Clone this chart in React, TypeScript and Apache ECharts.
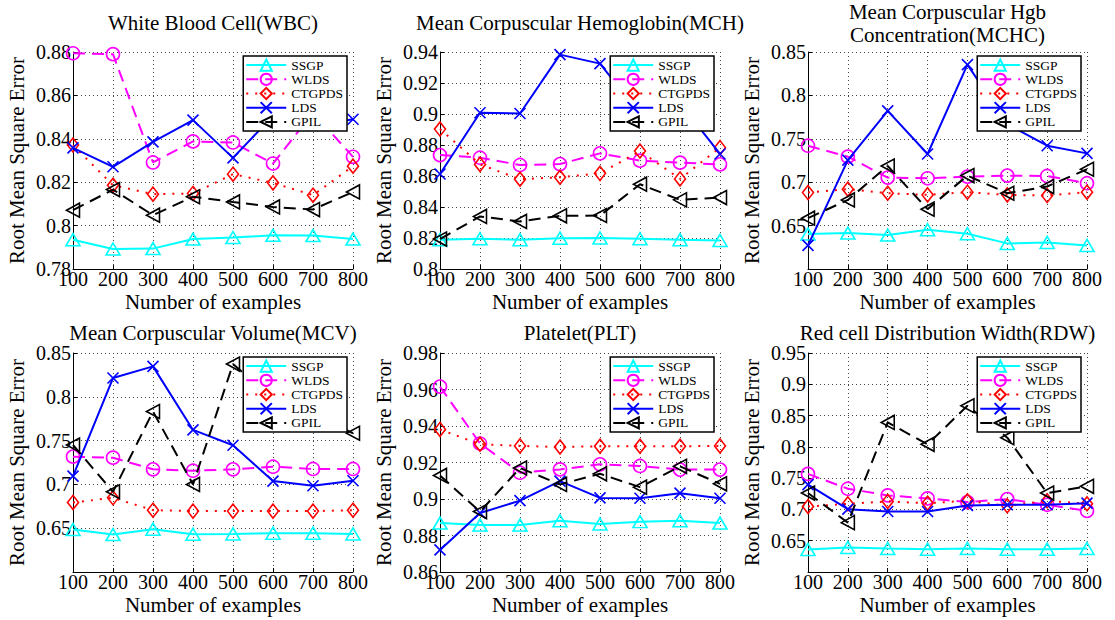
import React, { useEffect, useRef } from 'react';
import * as echarts from 'echarts';

const X_VALUES = [100, 200, 300, 400, 500, 600, 700, 800];
const METHODS = ['SSGP', 'WLDS', 'CTGPDS', 'LDS', 'GPIL'];
const TITLES = [
  'White Blood Cell(WBC)',
  'Mean Corpuscular Hemoglobin(MCH)',
  'Mean Corpuscular Hgb\nConcentration(MCHC)',
  'Mean Corpuscular Volume(MCV)',
  'Platelet(PLT)',
  'Red cell Distribution Width(RDW)',
];
const Y_MIN = [0.78, 0.8, 0.6, 0.6, 0.86, 0.6];
const Y_MAX = [0.88, 0.94, 0.85, 0.85, 0.98, 0.95];
const Y_STEP = [0.02, 0.02, 0.05, 0.05, 0.02, 0.05];
const Y_AXIS_NAME = 'Root Mean Square Error';
const X_AXIS_NAME = 'Number of examples';

const WBC_SSGP = [0.7935, 0.7892, 0.7894, 0.7938, 0.7945, 0.7955, 0.7954, 0.7938];
const WBC_WLDS = [0.8794, 0.879, 0.8291, 0.8388, 0.8383, 0.8286, 0.852, 0.8317];
const WBC_CTGPDS = [0.8371, 0.8186, 0.8145, 0.8148, 0.8237, 0.8197, 0.814, 0.8274];
const WBC_LDS = [0.8358, 0.8271, 0.8386, 0.8486, 0.8312, 0.8505, 0.846, 0.849];
const WBC_GPIL = [0.8071, 0.8166, 0.8048, 0.8133, 0.8109, 0.8086, 0.8074, 0.8155];

const MCH_SSGP = [0.8189, 0.8195, 0.8189, 0.8199, 0.82, 0.8195, 0.8189, 0.8184];
const MCH_WLDS = [0.8735, 0.8718, 0.8671, 0.8677, 0.8746, 0.8699, 0.8686, 0.8675];
const MCH_CTGPDS = [0.8903, 0.8675, 0.8579, 0.8592, 0.8617, 0.8761, 0.8581, 0.8783];
const MCH_LDS = [0.8613, 0.9008, 0.9003, 0.9383, 0.9325, 0.9, 0.907, 0.8742];
const MCH_GPIL = [0.8193, 0.8339, 0.8307, 0.8343, 0.8345, 0.8547, 0.8446, 0.8461];

const MCHC_SSGP = [0.6402, 0.6414, 0.6391, 0.6452, 0.6406, 0.6295, 0.6306, 0.6272];
const MCHC_WLDS = [0.742, 0.7294, 0.7053, 0.7045, 0.7064, 0.7076, 0.7072, 0.6988];
const MCHC_CTGPDS = [0.6881, 0.692, 0.6873, 0.6854, 0.6885, 0.6854, 0.6846, 0.6885];
const MCHC_LDS = [0.6272, 0.7255, 0.7822, 0.7325, 0.8355, 0.767, 0.742, 0.7332];
const MCHC_GPIL = [0.6586, 0.6796, 0.7187, 0.6689, 0.7076, 0.6873, 0.695, 0.7149];

const MCV_SSGP = [0.6485, 0.6427, 0.6489, 0.6431, 0.6435, 0.6443, 0.6443, 0.6435];
const MCV_WLDS = [0.7317, 0.7305, 0.7172, 0.7156, 0.7172, 0.7202, 0.7176, 0.7176];
const MCV_CTGPDS = [0.6794, 0.6847, 0.6706, 0.6695, 0.6695, 0.6695, 0.6695, 0.6706];
const MCV_LDS = [0.7095, 0.8214, 0.8347, 0.7622, 0.7447, 0.7038, 0.6985, 0.7042];
const MCV_GPIL = [0.745, 0.6916, 0.7832, 0.7, 0.8374, 0.7986, 0.78, 0.7584];

const PLT_SSGP = [0.8868, 0.8857, 0.8857, 0.8881, 0.8863, 0.8876, 0.8881, 0.8868];
const PLT_WLDS = [0.9616, 0.9304, 0.9144, 0.9162, 0.919, 0.9181, 0.9161, 0.9161];
const PLT_CTGPDS = [0.9381, 0.93, 0.9291, 0.9285, 0.9289, 0.9289, 0.9289, 0.9291];
const PLT_LDS = [0.8721, 0.8923, 0.8991, 0.9098, 0.9006, 0.9004, 0.9032, 0.9004];
const PLT_GPIL = [0.9129, 0.8931, 0.917, 0.908, 0.9138, 0.9065, 0.9179, 0.9083];

const RDW_SSGP = [0.636, 0.6392, 0.6376, 0.6365, 0.6376, 0.6365, 0.6365, 0.6376];
const RDW_WLDS = [0.7568, 0.7331, 0.7224, 0.7176, 0.7117, 0.7165, 0.7074, 0.6977];
const RDW_CTGPDS = [0.7047, 0.709, 0.7127, 0.71, 0.7138, 0.7058, 0.7138, 0.709];
const RDW_LDS = [0.7396, 0.7004, 0.6966, 0.6966, 0.7063, 0.7074, 0.7074, 0.71];
const RDW_GPIL = [0.7262, 0.6789, 0.839, 0.804, 0.8657, 0.8147, 0.7262, 0.7369];

const PANEL_DATA = [
  [WBC_SSGP, WBC_WLDS, WBC_CTGPDS, WBC_LDS, WBC_GPIL],
  [MCH_SSGP, MCH_WLDS, MCH_CTGPDS, MCH_LDS, MCH_GPIL],
  [MCHC_SSGP, MCHC_WLDS, MCHC_CTGPDS, MCHC_LDS, MCHC_GPIL],
  [MCV_SSGP, MCV_WLDS, MCV_CTGPDS, MCV_LDS, MCV_GPIL],
  [PLT_SSGP, PLT_WLDS, PLT_CTGPDS, PLT_LDS, PLT_GPIL],
  [RDW_SSGP, RDW_WLDS, RDW_CTGPDS, RDW_LDS, RDW_GPIL],
];

// layout (pixels)
const W = 1115;
const H = 620;
const COL_LEFT = [73, 440, 808];
const COL_WIDTH = [280, 280, 279];
const ROW_TOP = [52, 353];
const ROW_HEIGHT = [217, 219];
const TITLE_CY = [23, 23, 23.5, 333, 333, 333];

const FONT = 'Liberation Serif';

const STYLES = [
  { color: '#00FFFF', type: 'solid', symbol: 'triangle', size: [14, 12], rotate: 0 },
  { color: '#FF00FF', type: [12, 7], symbol: 'circle', size: 13, rotate: 0 },
  { color: '#FF0000', type: [2, 7], symbol: 'diamond', size: [11, 14], rotate: 0 },
  { color: '#0000FF', type: 'solid', symbol: 'path://M0,0L10,10M10,0L0,10', size: 11, rotate: 0 },
  { color: '#000000', type: [12, 7], symbol: 'triangle', size: [14, 13], rotate: 90 },
];

function buildOption() {
  const grid: any[] = [];
  const xAxis: any[] = [];
  const yAxis: any[] = [];
  const series: any[] = [];
  const legend: any[] = [];
  const graphic: any[] = [];

  for (let i = 0; i < 6; i++) {
    const col = i % 3;
    const row = Math.floor(i / 3);
    const left = COL_LEFT[col];
    const width = COL_WIDTH[col];
    const top = ROW_TOP[row];
    const height = ROW_HEIGHT[row];
    grid.push({ left, top, width, height, containLabel: false });

    xAxis.push({
      type: 'value',
      gridIndex: i,
      min: 100,
      max: 800,
      interval: 100,
      name: X_AXIS_NAME,
      nameLocation: 'middle',
      nameGap: 22,
      nameTextStyle: { fontFamily: FONT, fontSize: 21, color: '#000' },
      axisLine: { show: true, lineStyle: { color: '#000', width: 1 } },
      axisTick: { show: true, inside: true, length: 4, lineStyle: { color: '#000' } },
      axisLabel: { fontFamily: FONT, fontSize: 20, color: '#000', margin: 0 },
      splitLine: { show: true, lineStyle: { color: '#444', type: [1, 3], width: 1 } },
    });

    const hideMin = Y_MIN[i] === 0.6;
    yAxis.push({
      type: 'value',
      gridIndex: i,
      min: Y_MIN[i],
      max: Y_MAX[i],
      interval: Y_STEP[i],
      name: Y_AXIS_NAME,
      nameLocation: 'middle',
      nameGap: 46,
      nameTextStyle: { fontFamily: FONT, fontSize: 21, color: '#000' },
      axisLine: { show: true, lineStyle: { color: '#000', width: 1 } },
      axisTick: { show: true, inside: true, length: 4, lineStyle: { color: '#000' } },
      axisLabel: { fontFamily: FONT, fontSize: 20, color: '#000', margin: 2, showMinLabel: !hideMin },
      splitLine: { show: true, lineStyle: { color: '#444', type: [1, 3], width: 1 } },
    });

    PANEL_DATA[i].forEach((vals, k) => {
      const st = STYLES[k];
      series.push({
        type: 'line',
        name: METHODS[k],
        xAxisIndex: i,
        yAxisIndex: i,
        data: X_VALUES.map((x, j) => [x, vals[j]]),
        symbol: st.symbol,
        symbolSize: st.size,
        symbolRotate: st.rotate,
        showAllSymbol: true,
        lineStyle: { color: st.color, width: 2, type: st.type },
        itemStyle: { color: 'none', borderColor: st.color, borderWidth: 1.6 },
        emphasis: { disabled: true },
        z: 2 + k * 0.01,
      });
    });

    legend.push({
      data: METHODS,
      orient: 'vertical',
      right: W - (left + width) + 6,
      top: top + 4,
      itemWidth: 40,
      itemHeight: 14,
      itemGap: -2,
      itemTextGap: 3,
      padding: [1, 4, 1, 2],
      backgroundColor: '#fff',
      borderColor: '#000',
      borderWidth: 1.5,
      borderRadius: 0,
      selectedMode: false,
      textStyle: { fontFamily: FONT, fontSize: 13.5, lineHeight: 14, color: '#000' },
      z: 10,
    });

    graphic.push({
      type: 'text',
      x: left + width / 2,
      y: TITLE_CY[i],
      style: {
        text: TITLES[i],
        fontFamily: FONT,
        fontSize: 21,
        fill: '#000',
        textAlign: 'center',
        textVerticalAlign: 'middle',
        lineHeight: 23,
      },
    });
  }

  return {
    animation: false,
    backgroundColor: '#fff',
    textStyle: { fontFamily: FONT },
    grid,
    xAxis,
    yAxis,
    series,
    legend,
    graphic,
  };
}

export default function App() {
  const ref = useRef<HTMLDivElement>(null);
  useEffect(() => {
    if (!ref.current) return;
    const chart = echarts.init(ref.current, undefined, { renderer: 'svg' });
    chart.setOption(buildOption() as any);
    return () => chart.dispose();
  }, []);
  return (
    <div
      ref={ref}
      style={{ position: 'absolute', left: 0, top: 0, width: W, height: H, background: '#fff' }}
    />
  );
}
